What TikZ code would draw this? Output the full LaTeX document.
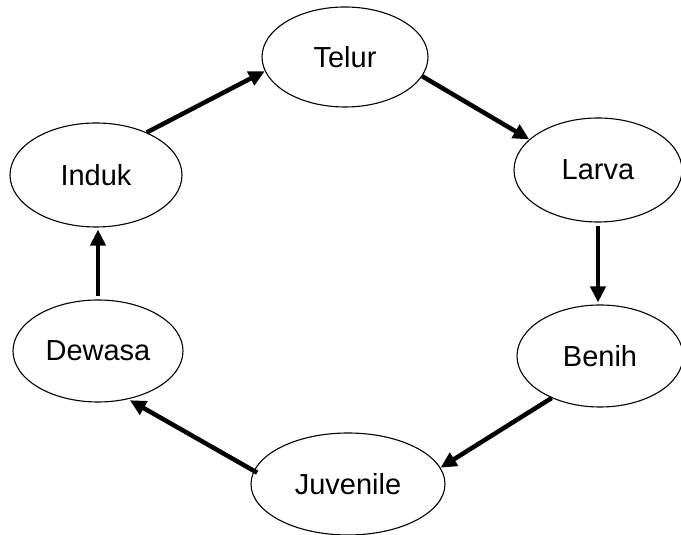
\documentclass[tikz,border=0pt]{standalone}
\usepackage{fontspec}
\setmainfont{Liberation Sans}
\usepackage{tikz}
\usetikzlibrary{
    arrows.meta,
    shapes,
    shapes.geometric
}
\tikzset{
    stage/.style={draw, ellipse, line width=1.1pt, inner sep=0pt},
    flow/.style={line width=4.5pt, -{Triangle[length=16pt,width=15pt]}}
}

\begin{document}
\begin{tikzpicture}[x=1pt, y=1pt, font=\fontsize{29}{34}\selectfont]
            \useasboundingbox (0, 0) rectangle (681, 535);

            \node[stage, minimum width=166, minimum height=100] (telur) at (345, 478) {Telur};
            \node[stage, minimum width=168, minimum height=104] (larva) at (598, 365) {Larva};
            \node[stage, minimum width=166, minimum height=102] (benih) at (600, 179) {Benih};
            \node[stage, minimum width=194, minimum height=102] (juvenile) at (348, 51) {Juvenile};
            \node[stage, minimum width=170, minimum height=102] (dewasa) at (98, 184) {Dewasa};
            \node[stage, minimum width=172, minimum height=104] (induk) at (96, 360) {Induk};

            \draw[flow] (induk.40) -- (telur.190);
            \draw[flow] (telur.346) -- (larva.156);
            \draw[flow, shorten <=3, shorten >=2] (larva.south) -- (larva.south |- benih.north);
            \draw[flow] (benih.221) -- (juvenile.10);
            \draw[flow, shorten <=-4, shorten >=2] (juvenile.172) -- (dewasa.302);
            \draw[flow, shorten <=3, shorten >=2] (dewasa.north) -- (dewasa.north |- induk.south);
        \end{tikzpicture}
\end{document}
